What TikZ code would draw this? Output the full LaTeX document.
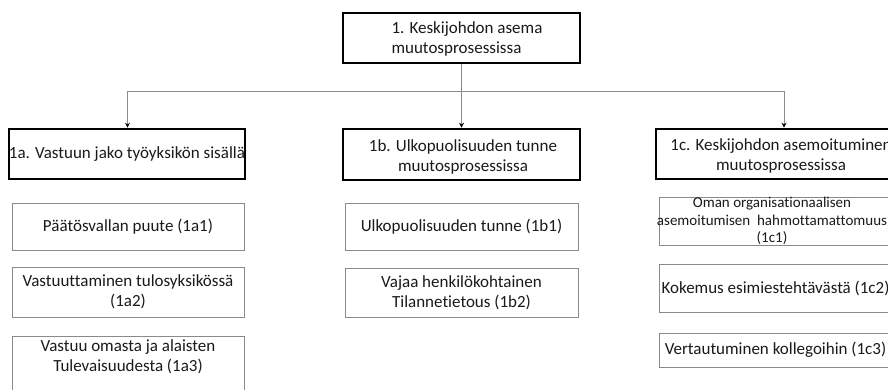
\documentclass[tikz,border=0pt]{standalone}
\usepackage{fontspec}
\setmainfont{Carlito}[Ligatures=NoCommon]
\usetikzlibrary{arrows.meta}
\definecolor{lg}{HTML}{8A8A8A}
\definecolor{tx}{HTML}{1A1A1A}
\tikzset{
  main/.style={draw=black, line width=2.6pt, text=tx, inner sep=0pt, font=\fontsize{17}{20}\selectfont, align=center},
  sub/.style={draw=lg, line width=0.9pt, text=tx, inner sep=0pt, font=\fontsize{17}{20}\selectfont, align=center},
  lbl/.style={text=tx, inner sep=0pt, align=center},
  conn/.style={draw=lg, line width=0.9pt},
  arr/.style={conn, -{Stealth[length=5pt,width=5pt,color=black]}}
}
\begin{document}
\begin{tikzpicture}[x=1pt,y=-1pt]
\useasboundingbox (0,0) rectangle (888,389);
\fill[white] (0,0) rectangle (888,389);
\begin{scope}
\clip (0,0) rectangle (888,389);
% top
\node[main, minimum width=237pt, minimum height=50pt] (top) at (461.5,38) {};
\node[lbl, align=left, font=\fontsize{17}{20}\selectfont] (toptxt) at (467,39) {1. Keskijohdon asema\\muutosprosessissa};
% column a
\node[main, minimum width=236pt, minimum height=50pt] (a) at (127,154) {1a. Vastuun jako työyksikön sisällä};
\node[sub, minimum width=232pt, minimum height=47pt] (a1) at (128,226.5) {Päätösvallan puute (1a1)};
\node[sub, minimum width=232pt, minimum height=50pt] (a2) at (128,292) {Vastuuttaminen tulosyksikössä\\(1a2)};
\node[sub, minimum width=232pt, minimum height=64pt] (a3) at (128,368) {};
\node[lbl, font=\fontsize{17}{20}\selectfont] (a3txt) at (128,357) {Vastuu omasta ja alaisten\\Tulevaisuudesta (1a3)};
% column b
\node[main, minimum width=237pt, minimum height=51pt] (b) at (461.5,154.5) {};
\node[lbl, font=\fontsize{17}{20}\selectfont] (btxt) at (463,157) {1b. Ulkopuolisuuden tunne\\muutosprosessissa};
\node[sub, minimum width=233pt, minimum height=47pt] (b1) at (461.5,226.5) {Ulkopuolisuuden tunne (1b1)};
\node[sub, minimum width=233pt, minimum height=49pt] (b2) at (461.5,292.5) {Vajaa henkilökohtainen\\Tilannetietous (1b2)};
% column c
\node[main, minimum width=250pt, minimum height=50pt] (c) at (781,154) {};
\node[lbl, font=\fontsize{17}{20}\selectfont] (ctxt) at (781,156) {1c. Keskijohdon asemoituminen\\muutosprosessissa};
\node[sub, minimum width=233pt, minimum height=48pt] (c1) at (775.5,221) {};
\node[lbl, font=\fontsize{15}{17.5}\selectfont] (c1txt) at (772,221) {Oman organisationaalisen\\asemoitumisen\ \ hahmottamattomuus\\(1c1)};
\node[sub, minimum width=233pt, minimum height=48pt] (c2) at (775.5,288) {Kokemus esimiestehtävästä (1c2)};
\node[sub, minimum width=233pt, minimum height=34pt] (c3) at (775.5,350) {Vertautuminen kollegoihin (1c3)};
% connectors
\coordinate (j) at (461.5,91);
\coordinate (aj) at (127.5,91);
\coordinate (cj) at (784,91);
\draw[arr] (top.south) -- (b.north);
\draw[conn] (aj) -- (cj);
\draw[arr] (aj) -- (aj |- a.north);
\draw[arr] (cj) -- (cj |- c.north);
\end{scope}
\end{tikzpicture}
\end{document}
